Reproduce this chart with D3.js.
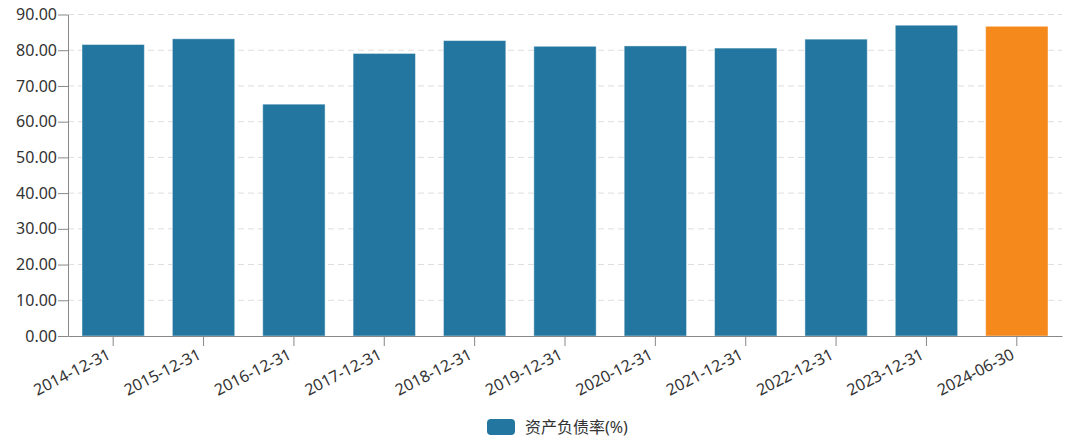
<!DOCTYPE html>
<html>
<head>
<meta charset="utf-8">
<script src="https://cdn.jsdelivr.net/npm/d3@7"></script>
<style>
  html, body { margin: 0; padding: 0; background: #fff; }
  #chart { width: 1080px; height: 439px; }
  text { font-family: "Noto Sans", "Noto Sans CJK SC", sans-serif; }
</style>
</head>
<body>
<div id="chart"></div>
<script>
// data
const dates = ['2014-12-31', '2015-12-31', '2016-12-31', '2017-12-31', '2018-12-31',
  '2019-12-31', '2020-12-31', '2021-12-31', '2022-12-31', '2023-12-31', '2024-06-30'];
const debtRatio = [81.6, 83.2, 64.9, 79.1, 82.7, 81.1, 81.2, 80.6, 83.1, 87.0, 86.7];
const yTicks = [0, 10, 20, 30, 40, 50, 60, 70, 80, 90];
const seriesName = '资产负债率(%)';

const width = 1080;
const height = 439;
const margin = { top: 14.5, right: 18, bottom: 103, left: 68 };

const blue = '#22769f';
const orange = '#f5891b';

const svg = d3.select('#chart')
  .append('svg')
  .attr('width', width)
  .attr('height', height);

const x = d3.scaleBand()
  .domain(dates)
  .range([margin.left, width - margin.right])
  .paddingInner(0.31)
  .paddingOuter(0.155);

const y = d3.scaleLinear()
  .domain([0, 90])
  .range([height - margin.bottom, margin.top]);

// grid
svg.append('g')
  .selectAll('line')
  .data(yTicks.filter(d => d > 0))
  .join('line')
  .attr('x1', margin.left)
  .attr('x2', width - margin.right)
  .attr('y1', d => y(d))
  .attr('y2', d => y(d))
  .attr('stroke', '#dedede')
  .attr('stroke-dasharray', '6,4');

// bars
svg.append('g')
  .selectAll('rect')
  .data(dates.map((d, i) => ({ date: d, value: debtRatio[i], last: i === dates.length - 1 })))
  .join('rect')
  .attr('x', d => x(d.date))
  .attr('y', d => y(d.value))
  .attr('width', x.bandwidth())
  .attr('height', d => y(0) - y(d.value))
  .attr('fill', d => d.last ? orange : blue)
  .attr('stroke', 'rgba(255,255,255,0.45)')
  .attr('stroke-width', 1);

// y axis
const yAxis = svg.append('g')
  .attr('transform', `translate(${margin.left},0)`)
  .call(d3.axisLeft(y).tickValues(yTicks).tickFormat(d3.format('.2f')).tickSize(10).tickSizeOuter(0));
yAxis.select('.domain').attr('stroke', '#888');
yAxis.selectAll('.tick line').attr('stroke', '#888');
yAxis.selectAll('.tick text')
  .attr('x', -11)
  .style('font-size', '16px')
  .attr('fill', '#333');

// x axis
const xAxis = svg.append('g')
  .attr('transform', `translate(0,${y(0)})`)
  .call(d3.axisBottom(x).tickSize(10).tickSizeOuter(0));
xAxis.select('.domain').attr('stroke', '#888');
xAxis.selectAll('.tick line').attr('stroke', '#888');
xAxis.selectAll('.tick text')
  .style('font-size', '16px')
  .attr('fill', '#333')
  .attr('text-anchor', 'end')
  .attr('dy', '0.35em')
  .attr('transform', 'translate(-4,17) rotate(-27)')
  .attr('y', 0)
  .attr('x', 0);

// legend
const legend = svg.append('g')
  .attr('transform', 'translate(487,419)');
legend.append('rect')
  .attr('width', 28)
  .attr('height', 16)
  .attr('rx', 4)
  .attr('fill', blue);
legend.append('text')
  .attr('x', 38)
  .attr('y', 8)
  .attr('dy', '0.35em')
  .style('font-size', '16px')
  .attr('fill', '#333')
  .text(seriesName);
</script>
</body>
</html>
